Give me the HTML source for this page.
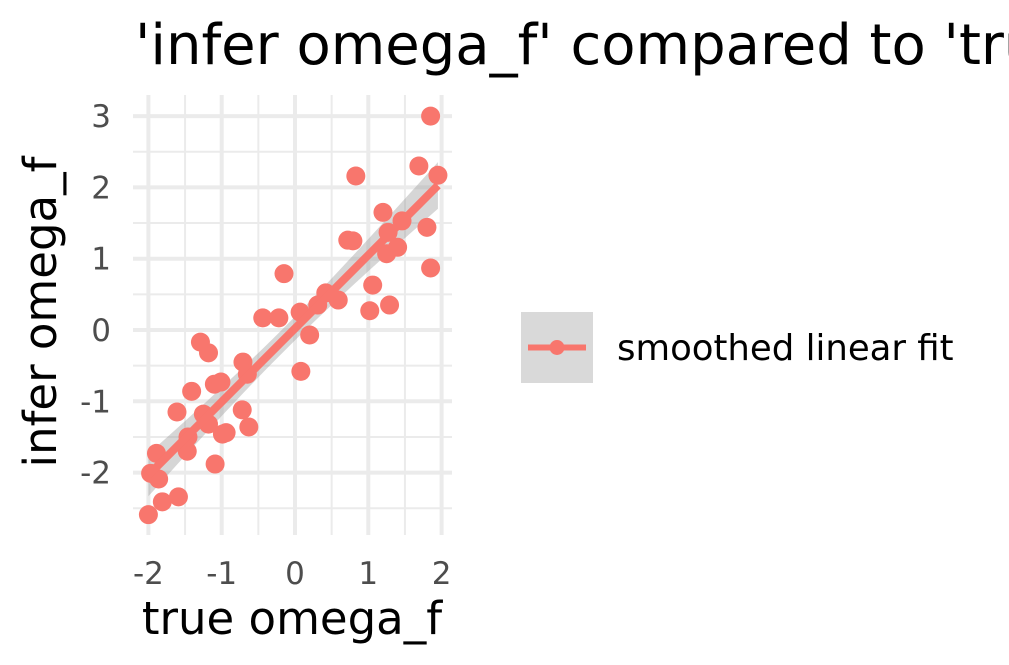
<!DOCTYPE html>
<html><head><meta charset="utf-8"><style>
html,body{margin:0;padding:0;background:#fff;overflow:hidden}
svg{display:block;font-family:"DejaVu Sans","Liberation Sans",sans-serif}
</style></head><body>
<svg id="chart" width="1009" height="665" viewBox="0 0 1009 665">
<text x="135" y="64" font-size="56" fill="#000">'infer omega_f' compared to 'true omega_f'</text>
<g id="grid"></g>
<g id="band"></g>
<g id="pts"></g>
<g id="fit"></g>
<g id="ticks"></g>
<text x="292" y="634" font-size="45" text-anchor="middle" fill="#000">true omega_f</text>
<text transform="translate(56,312) rotate(-90)" font-size="45" text-anchor="middle" fill="#000">infer omega_f</text>
<g>
<rect x="521" y="312" width="72" height="71" fill="#d9d9d9"/>
<line x1="528" y1="347.5" x2="586" y2="347.5" stroke="#f8766d" stroke-width="6"/>
<circle cx="557" cy="347.5" r="7.5" fill="#f8766d"/>
<text x="617" y="360" font-size="35.5" fill="#000">smoothed linear fit</text>
</g>
</svg>
<script>
const xVals=[-2.0,-1.81,-1.59,-1.89,-1.97,-1.86,-1.61,-1.47,-1.46,-1.41,-1.29,-1.18,-1.25,-1.18,-1.09,-1.10,-1.01,-0.99,-0.94,-0.71,-0.65,-0.72,-0.63,-0.44,-0.22,-0.15,0.07,0.08,0.20,0.31,0.42,0.59,0.72,0.79,0.83,1.02,1.06,1.20,1.25,1.29,1.27,1.40,1.46,1.69,1.80,1.85,1.85,1.95];
const yVals=[-2.59,-2.41,-2.34,-1.73,-2.01,-2.09,-1.15,-1.70,-1.50,-0.86,-0.17,-0.32,-1.18,-1.32,-1.88,-0.76,-0.73,-1.46,-1.44,-0.45,-0.62,-1.12,-1.36,0.17,0.17,0.79,0.25,-0.58,-0.07,0.35,0.52,0.42,1.26,1.25,2.16,0.27,0.63,1.65,1.07,0.35,1.37,1.16,1.53,2.30,1.44,0.87,3.0,2.17];
const xTicks=[-2,-1,0,1,2];
const yTicks=[-2,-1,0,1,2,3];
const NS='http://www.w3.org/2000/svg';
const X=v=>295+v*73.3, Y=v=>330-v*71.3;
const L=133,R=452,T=95,B=535;
function mk(tag,attrs,parent){const e=document.createElementNS(NS,tag);for(const k in attrs)e.setAttribute(k,attrs[k]);parent.appendChild(e);return e;}
const grid=document.getElementById('grid');
for(let v=-2.5;v<=3.01;v+=0.5){const major=Math.abs(v-Math.round(v))<1e-6;
 const l=mk('line',{x1:L,x2:R,y1:Y(v),y2:Y(v),stroke:'#ebebeb','stroke-width':major?4:2},grid);
 
 }
for(let v=-2;v<=2.01;v+=0.5){const major=Math.abs(v-Math.round(v))<1e-6;
 const l=mk('line',{x1:X(v),x2:X(v),y1:T,y2:B,stroke:'#ebebeb','stroke-width':major?4:2},grid);
 
 }
const tk=document.getElementById('ticks');
xTicks.forEach(v=>{const t=mk('text',{x:X(v),y:584,'font-size':31,'text-anchor':'middle',fill:'#4d4d4d'},tk);t.textContent=v;
 
 });
yTicks.forEach(v=>{const t=mk('text',{x:111,y:Y(v)+11,'font-size':31,'text-anchor':'end',fill:'#4d4d4d'},tk);t.textContent=v;
 
 });
const n=xVals.length,mx=xVals.reduce((a,b)=>a+b)/n,my=yVals.reduce((a,b)=>a+b)/n;
let sxx=0,sxy=0;for(let i=0;i<n;i++){sxx+=(xVals[i]-mx)**2;sxy+=(xVals[i]-mx)*(yVals[i]-my);}
const b1=sxy/sxx,b0=my-b1*mx;let sse=0;for(let i=0;i<n;i++)sse+=(yVals[i]-b0-b1*xVals[i])**2;
const s=Math.sqrt(sse/(n-2));
const x0=Math.min(...xVals),x1=Math.max(...xVals);
let up=[],lo=[];for(let k=0;k<=40;k++){const x=x0+(x1-x0)*k/40,f=b0+b1*x,se=2.01*s*Math.sqrt(1/n+(x-mx)**2/sxx);up.push(X(x)+','+Y(f+se));lo.unshift(X(x)+','+Y(f-se));}
const band=mk('polygon',{points:up.concat(lo).join(' '),fill:'#999',opacity:0.4},document.getElementById('band'));


const pg=document.getElementById('pts');
for(let i=0;i<n;i++){const c=mk('circle',{cx:X(xVals[i]),cy:Y(yVals[i]),r:9.5,fill:'#f8766d'},pg);
 
 }
const fl=mk('line',{x1:X(x0),y1:Y(b0+b1*x0),x2:X(x1),y2:Y(b0+b1*x1),stroke:'#f8766d','stroke-width':8},document.getElementById('fit'));


</script>
</body></html>
